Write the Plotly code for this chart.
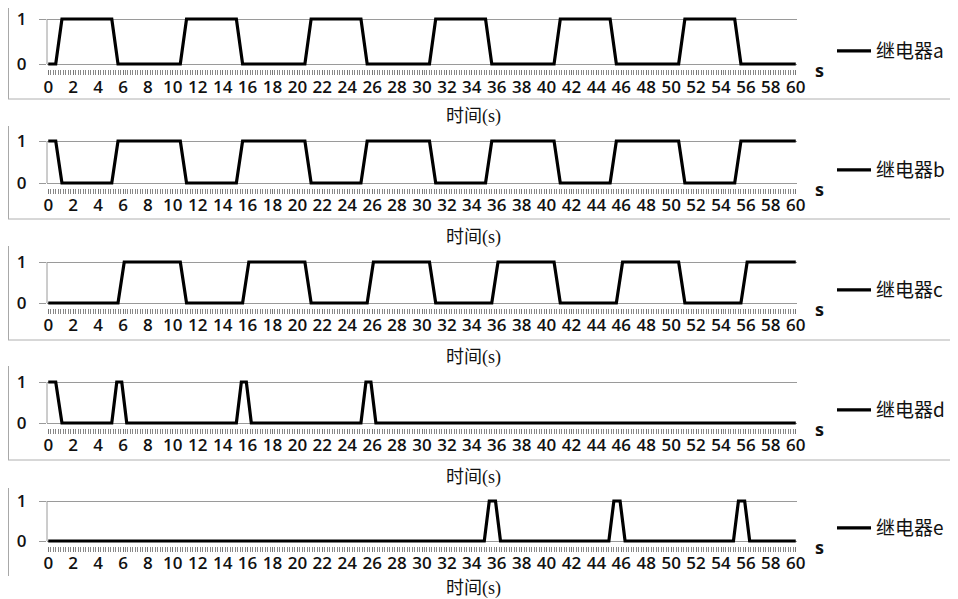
import plotly.graph_objects as go

# The page body has an 8px margin, so the figure is drawn 8px in from the
# window corner; geometry below is given in window pixels and shifted.
OFF = 8
W, H = 958 - OFF, 599 - OFF

# ---- data (time in s, relay state 0/1) ----
relay_names = ["继电器a", "继电器b", "继电器c", "继电器d", "继电器e"]

t_a = [0, 0.6, 1.1, 5.1, 5.6, 10.6, 11.1, 15.1, 15.6, 20.6, 21.1, 25.1, 25.6,
       30.6, 31.1, 35.1, 35.6, 40.6, 41.1, 45.1, 45.6, 50.6, 51.1, 55.1, 55.6, 60]
v_a = [0, 0, 1, 1, 0, 0, 1, 1, 0, 0, 1, 1, 0,
       0, 1, 1, 0, 0, 1, 1, 0, 0, 1, 1, 0, 0]

t_b = [0, 0.6, 1.1, 5.1, 5.6, 10.6, 11.1, 15.1, 15.6, 20.6, 21.1, 25.1, 25.6,
       30.6, 31.1, 35.1, 35.6, 40.6, 41.1, 45.1, 45.6, 50.6, 51.1, 55.1, 55.6, 60]
v_b = [1, 1, 0, 0, 1, 1, 0, 0, 1, 1, 0, 0, 1,
       1, 0, 0, 1, 1, 0, 0, 1, 1, 0, 0, 1, 1]

t_c = [0, 5.6, 6.1, 10.6, 11.1, 15.6, 16.1, 20.6, 21.1, 25.6, 26.1, 30.6, 31.1,
       35.6, 36.1, 40.6, 41.1, 45.6, 46.1, 50.6, 51.1, 55.6, 56.1, 60]
v_c = [0, 0, 1, 1, 0, 0, 1, 1, 0, 0, 1, 1, 0,
       0, 1, 1, 0, 0, 1, 1, 0, 0, 1, 1]

t_d = [0, 0.6, 1.1, 5.1, 5.5, 5.9, 6.3, 15.1, 15.5, 15.9, 16.3, 25.1, 25.5, 25.9, 26.3, 60]
v_d = [1, 1, 0, 0, 1, 1, 0, 0, 1, 1, 0, 0, 1, 1, 0, 0]

t_e = [0, 35.0, 35.4, 35.9, 36.3, 45.0, 45.4, 45.9, 46.3, 55.0, 55.4, 55.9, 56.3, 60]
v_e = [0, 0, 1, 1, 0, 0, 1, 1, 0, 0, 1, 1, 0, 0]

series_t = [t_a, t_b, t_c, t_d, t_e]
series_v = [v_a, v_b, v_c, v_d, v_e]

x_tickvals = list(range(0, 61, 2))
x_ticktext = [str(v) for v in x_tickvals]
x_title = "时间(s)"

# ---- layout geometry (window pixels) ----
panels = [(19, 64), (141, 183), (262, 303), (382, 423), (501, 541)]  # (y=1 px, y=0 px)
title_y = [116, 237, 357, 477, 588]
X_LEFT, X_RIGHT = 47, 797
PAD = 0.12
GRAY = "#9a9a9a"

def fx(p):
    return (p - OFF) / W

def fy(p):
    return 1 - (p - OFF) / H

fig = go.Figure()
shapes = []
annotations = []
layout = dict(
    width=W, height=H, autosize=False,
    margin=dict(l=0, r=0, t=0, b=0, autoexpand=False),
    paper_bgcolor="white", plot_bgcolor="white",
    showlegend=True,
)

tick_font = dict(family="Open Sans, Lato, sans-serif", size=17, color="#111111", weight=600)

for i, (p1, p0) in enumerate(panels):
    k = "" if i == 0 else str(i + 1)
    unit = (p0 - p1)  # px per 1.0 in y
    top = p1 - PAD * unit
    bot = p0 + PAD * unit
    fig.add_trace(go.Scatter(
        x=series_t[i], y=series_v[i], mode="lines",
        line=dict(color="black", width=3.2),
        name=relay_names[i], xaxis="x" + k, yaxis="y" + k,
        legend="legend" + k, showlegend=True,
    ))
    layout["xaxis" + k] = dict(
        domain=[fx(X_LEFT), fx(X_RIGHT)], range=[-0.1, 60.1],
        anchor="y" + k, showgrid=False, zeroline=False,
        showline=False, automargin=False, ticklabeloverflow="allow",
        tickmode="array", tickvals=x_tickvals, ticktext=x_ticktext,
        ticks="outside", ticklen=5, tickwidth=1, tickcolor="#777777",
        minor=dict(dtick=0.2, tick0=0, ticks="outside", ticklen=5, tickwidth=1,
                   tickcolor="#888888", showgrid=False),
        tickfont=tick_font, ticklabelstandoff=-3,
        fixedrange=True,
    )
    layout["yaxis" + k] = dict(
        domain=[fy(bot), fy(top)], range=[-PAD, 1 + PAD],
        anchor="x" + k, tickmode="array", tickvals=[0, 1], ticktext=["0", "1"],
        showgrid=True, gridcolor=GRAY, gridwidth=1, zeroline=True,
        zerolinecolor=GRAY, zerolinewidth=1, automargin=False,
        ticklabeloverflow="allow",
        showline=False, ticks="outside", ticklen=7, tickcolor=GRAY,
        tickfont=tick_font, ticklabelstandoff=9,
        fixedrange=True,
    )
    # y axis line from 0 to 1
    shapes.append(dict(type="line", xref="paper", yref="paper",
                       x0=fx(X_LEFT), x1=fx(X_LEFT), y0=fy(p0), y1=fy(p1),
                       line=dict(color=GRAY, width=1)))
    # legend
    layout["legend" + k] = dict(
        x=fx(832), y=fy(p0 - 13), xanchor="left", yanchor="middle",
        bgcolor="rgba(0,0,0,0)", borderwidth=0,
        font=dict(family="Noto Sans CJK SC, sans-serif", size=19, color="#111111"),
        itemwidth=34, tracegroupgap=0,
    )
    # "s" unit
    annotations.append(dict(text="s", x=fx(819), y=fy(p0 + 6), xref="paper", yref="paper",
                            showarrow=False, xanchor="center", yanchor="middle",
                            font=dict(family="Open Sans, sans-serif", size=18,
                                      color="#111111", weight=700)))
    # x title
    annotations.append(dict(text=x_title, x=fx(473), y=fy(title_y[i]), xref="paper", yref="paper",
                            showarrow=False, xanchor="center", yanchor="middle",
                            font=dict(family="Liberation Serif, Noto Sans CJK SC, serif",
                                      size=18, color="#111111")))

# frame fragments from the original chart images
frames = [(8, 99), (126, 219), (246, 340), (366, 460), (488, 576)]
for j, (a, b) in enumerate(frames):
    shapes.append(dict(type="line", xref="paper", yref="paper",
                       x0=fx(OFF + 0.5), x1=fx(OFF + 0.5), y0=fy(a), y1=fy(b),
                       line=dict(color="#a8a8a8", width=1)))
    if j < 4:
        shapes.append(dict(type="line", xref="paper", yref="paper",
                           x0=fx(OFF), x1=fx(958), y0=fy(b), y1=fy(b),
                           line=dict(color="#b0b0b0", width=1)))

layout["shapes"] = shapes
layout["annotations"] = annotations
fig.update_layout(**layout)
fig.write_html("out.html")
